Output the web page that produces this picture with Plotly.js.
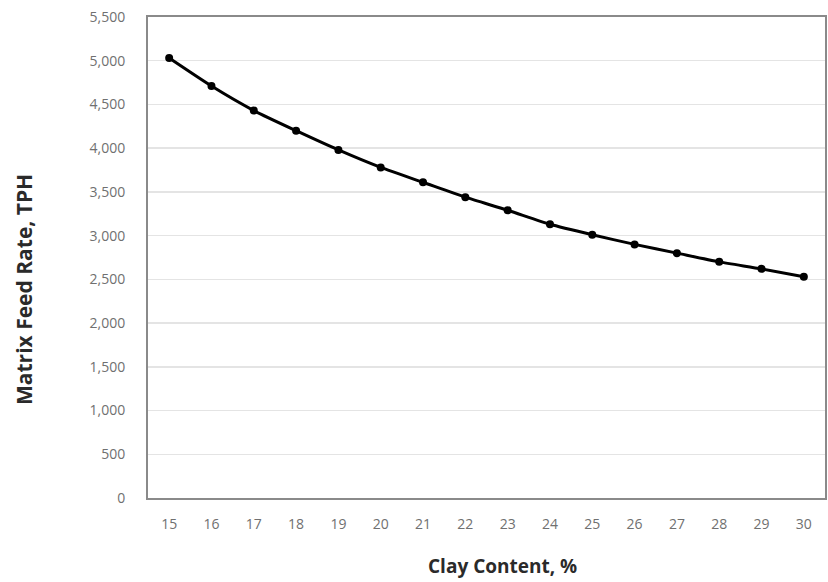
<!DOCTYPE html>
<html>
<head>
<meta charset="utf-8">
<script src="https://cdn.plot.ly/plotly-3.0.1.min.js"></script>
<style>html,body{margin:0;padding:0;background:#fff;}#chart{width:828px;height:582px;}</style>
</head>
<body>
<div id="chart"></div>
<script>
const clayContent = ["15","16","17","18","19","20","21","22","23","24","25","26","27","28","29","30"];
const feedRate = [5030, 4710, 4430, 4200, 3980, 3780, 3610, 3440, 3290, 3130, 3010, 2900, 2800, 2700, 2620, 2530];
const yTickVals = [0,500,1000,1500,2000,2500,3000,3500,4000,4500,5000,5500];
const xTitle = 'Clay Content, %';
const yTitle = 'Matrix Feed Rate, TPH';

const trace = {
  x: clayContent,
  y: feedRate,
  type: 'scatter',
  mode: 'lines+markers',
  line: {color: '#000', width: 3, shape: 'spline', smoothing: 0.6},
  marker: {color: '#000', size: 8},
  hoverinfo: 'skip'
};

const W = 828, H = 582, L = 148, R = 3, T = 17, B = 84;
const pw = W - L - R, ph = H - T - B;

const layout = {
  width: W, height: H,
  margin: {l: L, r: R, t: T, b: B},
  paper_bgcolor: '#fff', plot_bgcolor: '#fff',
  showlegend: false,
  font: {family: 'Open Sans, sans-serif', color: '#666'},
  xaxis: {
    type: 'category',
    range: [-0.5, 15.5],
    showgrid: false,
    showline: true, linecolor: '#8a8a8a', linewidth: 2, mirror: true,
    ticks: '', zeroline: false,
    tickfont: {size: 14, color: '#707070'},
    ticklabelstandoff: 12
  },
  yaxis: {
    range: [0, 5500],
    tickvals: yTickVals,
    tickformat: ',d',
    showgrid: true, gridcolor: '#e4e4e4', gridwidth: 1.5,
    showline: true, linecolor: '#8a8a8a', linewidth: 2, mirror: true,
    ticks: '', zeroline: false,
    tickfont: {size: 14, color: '#707070'},
    ticklabelstandoff: 18
  },
  annotations: [
    {text: xTitle, xref: 'paper', yref: 'paper',
     x: (502 - L) / pw, y: (H - B - 566) / ph, xanchor: 'center', yanchor: 'middle',
     showarrow: false, font: {size: 19, color: '#2a2a2a', weight: 'bold'}},
    {text: yTitle, xref: 'paper', yref: 'paper', textangle: -90,
     x: (24 - L) / pw, y: (H - B - 290) / ph, xanchor: 'center', yanchor: 'middle',
     showarrow: false, font: {size: 21, color: '#2a2a2a', weight: 'bold'}}
  ]
};

Plotly.newPlot('chart', [trace], layout, {displayModeBar: false, staticPlot: true});
</script>
</body>
</html>
